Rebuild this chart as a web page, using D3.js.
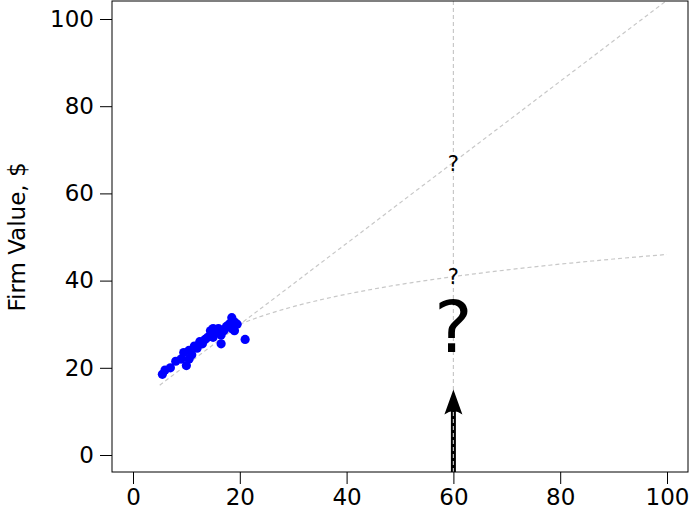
<!DOCTYPE html>
<html><head><meta charset="utf-8">
<script src="https://cdn.jsdelivr.net/npm/d3@7"></script>
<style>body{margin:0;background:#fff}text{font-family:"DejaVu Sans",sans-serif}</style>
</head><body><svg id="c" width="694" height="529"></svg>
<script>
// observed firm values
var firmX = [5.5,6,7,8,9,9.5,10,10.5,10.5,11,11.5,12,12.5,13,13.5,14,14.5,15,15,15.5,16,16.5,16.5,17,17.5,18,18.5,18.5,19,19,19.5,21];
var firmY = [18.5,19.5,20,21.5,22,23.5,20.5,22,24,23,25,24.5,26,25.5,26.5,27,28.5,27,29,28,29,25.5,27.5,28.5,29.5,30,31.5,29,30.5,28.5,30,26.5];
var xTicks = [0,20,40,60,80,100];
var yTicks = [0,20,40,60,80,100];
var linFit = [[5,16],[100,104.3]];
var logA = 0.22, logB = 9.94; // curve fit y = a + b ln x
var curveX = d3.range(20,101,2);
var probeX = 60, arrowTop = 15;

var svg = d3.select("#c");
var x = d3.scaleLinear().domain([0,100]).range([133,667]);
var y = d3.scaleLinear().domain([0,100]).range([455,19]);
var L=112,R=688,T=1,B=472;

svg.append("defs").append("clipPath").attr("id","cp").append("rect")
  .attr("x",L).attr("y",T).attr("width",R-L).attr("height",B-T);
var g = svg.append("g").attr("clip-path","url(#cp)");
var dash = {stroke:"#c8c8c8","stroke-width":1.2,"stroke-dasharray":"4,3",fill:"none"};
function sty(s){for(var k in dash)s.attr(k,dash[k]);return s;}

sty(g.append("line").attr("x1",x(probeX)).attr("x2",x(probeX)).attr("y1",T).attr("y2",B));
sty(g.append("path").attr("d",d3.line().x(d=>x(d[0])).y(d=>y(d[1]))(linFit)));
sty(g.append("path").attr("d",d3.line().x(d=>x(d)).y(d=>y(logA+logB*Math.log(d)))(curveX)));

g.selectAll("circle").data(firmX).enter().append("circle")
  .attr("cx",d=>x(d)).attr("cy",(d,i)=>y(firmY[i])).attr("r",4.6).attr("fill","#0000ff");

// arrow
var ax = x(probeX), at = y(arrowTop);
g.append("line").attr("x1",ax).attr("x2",ax).attr("y1",B).attr("y2",at+14).attr("stroke","#000").attr("stroke-width",5);
g.append("path").attr("d","M"+ax+","+at+" L"+(ax-9)+","+(at+25)+" Q"+ax+","+(at+18)+" "+(ax+9)+","+(at+25)+" Z").attr("fill","#000");
sty(g.append("line").attr("x1",ax).attr("x2",ax).attr("y1",B).attr("y2",at+20)).attr("stroke","#bbb");

svg.append("text").attr("x",ax).attr("y",y(67)+8).attr("text-anchor","middle").attr("font-size",21).text("?");
svg.append("text").attr("x",ax).attr("y",y(41)+8).attr("text-anchor","middle").attr("font-size",21).text("?");
svg.append("text").attr("x",ax).attr("y",352).attr("text-anchor","middle").attr("font-size",72).text("?");

svg.append("rect").attr("x",L).attr("y",T).attr("width",R-L).attr("height",B-T).attr("fill","none").attr("stroke","#000").attr("stroke-width",1);

var xa = svg.append("g").attr("transform","translate(0,"+B+")").call(d3.axisBottom(x).tickValues(xTicks).tickSize(12).tickPadding(5).tickSizeOuter(0));
var ya = svg.append("g").attr("transform","translate("+L+",0)").call(d3.axisLeft(y).tickValues(yTicks).tickSize(12).tickPadding(6).tickSizeOuter(0));
[xa,ya].forEach(a=>{a.select(".domain").remove();a.selectAll("text").attr("font-size",23).attr("font-family","DejaVu Sans").attr("fill","#000");a.selectAll("line").attr("stroke","#000");});
svg.append("text").attr("transform","translate(25,237) rotate(-90)").attr("text-anchor","middle").attr("font-size",23).text("Firm Value, $");
</script></body></html>
